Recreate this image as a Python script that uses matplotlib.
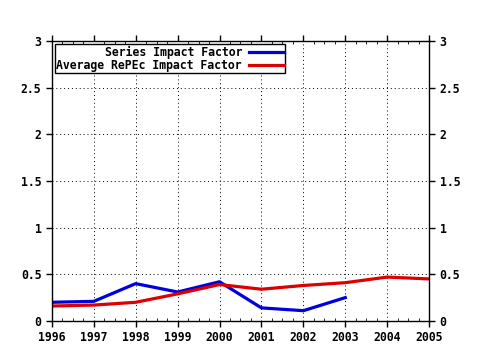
import numpy as np
import matplotlib
matplotlib.use('Agg')
import matplotlib.pyplot as plt
from matplotlib.ticker import AutoMinorLocator

years = [1996, 1997, 1998, 1999, 2000, 2001, 2002, 2003, 2004, 2005]
series_years = [1996, 1997, 1998, 1999, 2000, 2001, 2002, 2003]
series_if = [0.20, 0.21, 0.40, 0.31, 0.42, 0.14, 0.11, 0.25]
repec_if = [0.16, 0.17, 0.20, 0.29, 0.39, 0.34, 0.38, 0.41, 0.47, 0.45]
yticks = [0, 0.5, 1, 1.5, 2, 2.5, 3]
ylabels = ['0', '0.5', '1', '1.5', '2', '2.5', '3']

plt.rcParams['font.family'] = 'DejaVu Sans Mono'
plt.rcParams['font.weight'] = 'bold'
plt.rcParams['font.size'] = 8.3

fig = plt.figure(figsize=(4.8, 3.5), dpi=100)
ax = fig.add_axes([0.108, 0.083, 0.786, 0.80])

ax.plot(series_years, series_if, color='#0000dd', lw=2.3, label='Series Impact Factor')
ax.plot(years, repec_if, color='#dd0000', lw=2.3, label='Average RePEc Impact Factor')

ax.set_xlim(1996, 2005)
ax.set_ylim(0, 3)
ax.set_xticks(years)
ax.set_yticks(yticks)
ax.set_yticklabels(ylabels)
ax.xaxis.set_minor_locator(AutoMinorLocator(4))
ax.grid(True, color='black', linestyle=(0, (1, 3)), linewidth=0.7)
ax.tick_params(which='major', direction='out', length=4, width=1,
               top=True, right=True, labelright=True, labelleft=True)
ax.tick_params(which='minor', direction='in', length=2, top=True, bottom=True)
for s in ax.spines.values():
    s.set_linewidth(1)

leg = ax.legend(loc='upper left', markerfirst=False, frameon=True, fancybox=False,
                edgecolor='black', framealpha=1, handlelength=3.0, borderpad=0.1,
                labelspacing=0.05, borderaxespad=0.3, handletextpad=0.6)
leg.get_frame().set_linewidth(1)

fig.savefig('out.png', dpi=100)
